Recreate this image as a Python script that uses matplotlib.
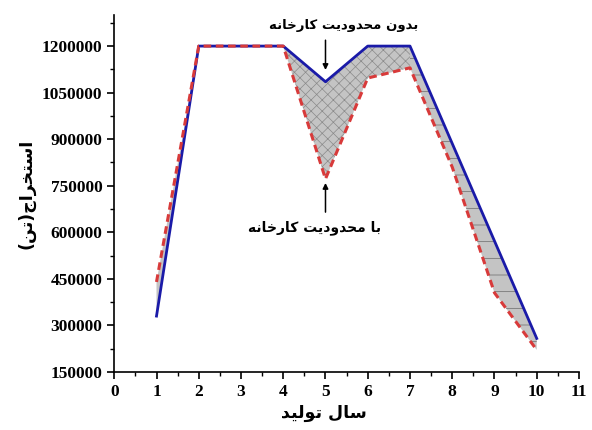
import matplotlib
matplotlib.use("Agg")
import matplotlib.pyplot as plt
from matplotlib.ticker import MultipleLocator

# production year
years = [1, 2, 3, 4, 5, 6, 7, 8, 9, 10]
# extraction (ton) without plant limit
no_limit = [330000, 1200000, 1200000, 1200000, 1085000, 1200000, 1200000, 886000, 572000, 258000]
# extraction (ton) with plant limit
with_limit = [440000, 1200000, 1200000, 1200000, 772000, 1097000, 1130000, 810000, 405000, 221000]

y_ticks = [150000, 300000, 450000, 600000, 750000, 900000, 1050000, 1200000]
y_tick_labels = [str(v) for v in y_ticks]
x_ticks = list(range(0, 12))

label_no_limit = "بدون محدودیت کارخانه"
label_with_limit = "با محدودیت کارخانه"
x_title = "سال تولید"
y_title = "استخراج(تن)"

# arabic/persian contextual forms: isolated, final, initial, medial
FORMS = {
    "ا": ("\uFE8D", "\uFE8E", None, None),
    "ب": ("\uFE8F", "\uFE90", "\uFE91", "\uFE92"),
    "ت": ("\uFE95", "\uFE96", "\uFE97", "\uFE98"),
    "ج": ("\uFE9D", "\uFE9E", "\uFE9F", "\uFEA0"),
    "ح": ("\uFEA1", "\uFEA2", "\uFEA3", "\uFEA4"),
    "خ": ("\uFEA5", "\uFEA6", "\uFEA7", "\uFEA8"),
    "د": ("\uFEA9", "\uFEAA", None, None),
    "ر": ("\uFEAD", "\uFEAE", None, None),
    "س": ("\uFEB1", "\uFEB2", "\uFEB3", "\uFEB4"),
    "ل": ("\uFEDD", "\uFEDE", "\uFEDF", "\uFEE0"),
    "م": ("\uFEE1", "\uFEE2", "\uFEE3", "\uFEE4"),
    "ن": ("\uFEE5", "\uFEE6", "\uFEE7", "\uFEE8"),
    "ه": ("\uFEE9", "\uFEEA", "\uFEEB", "\uFEEC"),
    "و": ("\uFEED", "\uFEEE", None, None),
    "ی": ("\uFBFC", "\uFBFD", "\uFBFE", "\uFBFF"),
    "ک": ("\uFB8E", "\uFB8F", "\uFB90", "\uFB91"),
}
MIRROR = {"(": ")", ")": "("}


def shape(s):
    out = []
    for i, c in enumerate(s):
        if c not in FORMS:
            out.append(MIRROR.get(c, c))
            continue
        prev = s[i - 1] if i > 0 else None
        nxt = s[i + 1] if i + 1 < len(s) else None
        from_prev = prev in FORMS and FORMS[prev][2] is not None
        to_next = FORMS[c][2] is not None and nxt in FORMS
        f = FORMS[c]
        if from_prev and to_next:
            out.append(f[3])
        elif from_prev:
            out.append(f[1])
        elif to_next:
            out.append(f[2])
        else:
            out.append(f[0])
    return "".join(reversed(out))


plt.rcParams["font.family"] = ["Liberation Serif", "DejaVu Sans"]
plt.rcParams["hatch.linewidth"] = 0.5

fig = plt.figure(figsize=(5.92, 4.30), dpi=100)
ax = fig.add_axes([0.193, 0.135, 0.785, 0.83])

ax.fill_between(years[0:4], no_limit[0:4], with_limit[0:4], facecolor="#c4c4c4", linewidth=0)
ax.fill_between(years[3:7], no_limit[3:7], with_limit[3:7], facecolor="#c4c4c4",
                edgecolor="#8a8a8a", hatch="xxx", linewidth=0)
ax.fill_between(years[6:], no_limit[6:], with_limit[6:], facecolor="#c4c4c4",
                edgecolor="#6a6a6a", hatch="-", linewidth=0)

ax.plot(years, no_limit, color="#1a1aa8", linewidth=2)
ax.plot(years, with_limit, color="#d83a3a", linewidth=2.2, linestyle=(0, (2.5, 1.5)))

ax.set_xlim(0, 11)
ax.set_ylim(150000, 1300000)
ax.set_xticks(x_ticks)
ax.set_yticks(y_ticks)
ax.set_yticklabels(y_tick_labels)
ax.xaxis.set_minor_locator(MultipleLocator(0.5))
ax.yaxis.set_minor_locator(MultipleLocator(75000))
ax.tick_params(which="major", direction="out", length=5, width=1.2, labelsize=12.5)
ax.tick_params(which="minor", direction="out", length=3, width=1)
for lab in ax.get_xticklabels() + ax.get_yticklabels():
    lab.set_fontweight("bold")

ax.spines["top"].set_visible(False)
ax.spines["right"].set_visible(False)
ax.spines["left"].set_linewidth(1.2)
ax.spines["bottom"].set_linewidth(1.2)

arab = dict(family="DejaVu Sans", fontweight="bold")
ax.set_xlabel(shape(x_title), fontsize=12.5, labelpad=3, **arab)
ax.xaxis.set_label_coords(0.45, -0.09)
ax.set_ylabel(shape(y_title), fontsize=12.5, labelpad=6, **arab)
ax.yaxis.set_label_coords(-0.17, 0.5)

arrow = dict(arrowstyle="-|>", color="black", lw=1.1, shrinkA=0, shrinkB=0, mutation_scale=8)
ax.text(5.44, 1265000, shape(label_no_limit), ha="center", va="center", fontsize=9.5, **arab)
ax.annotate("", xy=(years[4], 1123000), xytext=(years[4], 1219000), arrowprops=arrow)
ax.text(4.75, 614000, shape(label_with_limit), ha="center", va="center", fontsize=10, **arab)
ax.annotate("", xy=(years[4], 759000), xytext=(years[4], 665000), arrowprops=arrow)

fig.savefig("out.png", dpi=100)
